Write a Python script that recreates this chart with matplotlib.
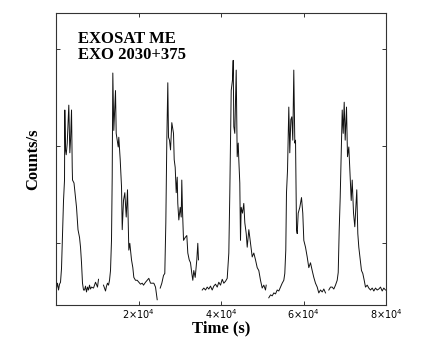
import numpy as np
import matplotlib.pyplot as plt
from matplotlib.ticker import FuncFormatter

# EXOSAT ME light curve of EXO 2030+375 (NaN = data gap)
time_s = [
    120, 360, 610, 850, 1090, 1330, 1580, 1820, 2060, 2130, 2300, 2470, 2720, 3100,
    3350, 3520, 3760, 3930, 4000, 4360, 4730, 4970, 5330, 5700, 5940, 6180, 6420,
    6670, 6910, 7150, 7390, 7640, 7880, 8120, 8360, 8600, 9090, 9580, 10060, 10300,
    np.nan,
    11510, 11760, 12000, 12240, 12480, 12730, 12970, 13210, 13450, 13620, 13770,
    14010, 14420, 14590, 15080, 15220, 15560, 15880, 16050, 16360, 16680, 17020,
    17330, 17650, 17890, 18300, 18620, 18860, 19270, 19680, 20070, 20480, 20900,
    21210, 21700, 22110, 22500, 22910, 23150, 23710, 24120, 24530,
    np.nan,
    25260, 25650, 26060, 26370, 26620, 26790, 26860, 27100, 27270, 27510, 27760,
    28070, 28480, 28650, 28890, 29140, 29380, 29520, 29770, 30110, 30350, 30490,
    30660, 30910, 31320, 31710, 31950, 32290, 32600, 32920, 33160, 33400, 33740,
    34130, 34370, 34540,
    np.nan,
    35440, 35830, 36240, 36650, 37040, 37450, 37860, 38250, 38660, 39080, 39460,
    39880, 40290, 40680, 41090, 41500, 41890, 42130, 42300, 42470, 42780, 42950,
    43100, 43340, 43680, 43920, 44170, 44310, 44550, 44720, 44890, 45210, 45520,
    45770, 46110, 46350, 46740, 47150, 47560, 47950, 48360, 48770, 49160, 49570,
    49980, 50370, 50780, 50950,
    np.nan,
    51580, 52000, 52410, 52800, 53210, 53620, 54010, 54420, 54830, 55220, 55460,
    55700, 55870, 56120, 56430, 56670, 56920, 57160, 57400, 57640, 57890, 58060,
    58300, 58470, 58710, 59100, 59510, 59820, 60070, 60480, 60890, 61280, 61690,
    62100, 62490, 62900, 63320, 63700, 64120, 64530, 64920, 65330,
    np.nan,
    66130, 66540, 66950, 67340, 67750, 68160, 68410, 68650, 68890, 69130, 69380,
    69620, 69860, 70100, 70420, 70660, 70980, 71310, 71560, 71800, 72120, 72430,
    72670, 72910, 73160, 73400, 73740, 74050, 74370, 74710, 75020, 75440, 75820,
    76240, 76650, 77040, 77450, 77860, 78250, 78660, 79070, 79460, 79870,
]
counts = [
    54, 59, 52, 58, 60, 74, 110, 144, 165, 237, 196, 191, 203, 242,
    193, 206, 237, 178, 165, 162, 147, 137, 114, 106, 96, 80, 59,
    52, 52, 56, 50, 55, 52, 57, 53, 55, 54, 60, 55, 63,
    np.nan,
    57, 54, 51, 56, 59, 57, 62, 72, 103, 168, 275,
    216, 257, 213, 199, 209, 186, 158, 114, 144, 152, 127,
    155, 93, 100, 83, 75, 65, 62, 62, 60, 58, 59,
    57, 60, 62, 64, 59, 59, 59, 55, 42,
    np.nan,
    54, 59, 67, 69, 121, 178, 206, 265, 209, 206, 196,
    224, 213, 186, 178, 152, 168, 141, 124, 137, 127, 165,
    134, 103, 106, 108, 90, 83, 80, 69, 62, 72, 65,
    83, 100, 83,
    np.nan,
    52, 54, 52, 55, 53, 56, 52, 56, 58, 55, 60,
    57, 63, 59, 61, 64, 90, 152, 206, 257, 268, 288,
    220, 213, 278, 189, 203, 186, 162, 103, 137, 131, 141,
    121, 110, 96, 114, 100, 86, 90, 83, 75, 72, 62,
    54, 57, 52, 57,
    np.nan,
    44, 47, 46, 49, 48, 52, 51, 55, 59, 62, 69,
    93, 152, 175, 240, 193, 227, 230, 206, 278, 203, 206,
    114, 110, 131, 137, 147, 131, 103, 96, 86, 75, 80,
    72, 65, 59, 55, 49, 52, 50, 53, 49,
    np.nan,
    52, 55, 55, 53, 57, 62, 70, 114, 147, 193, 237,
    213, 245, 206, 240, 189, 199, 168, 144, 165, 131, 117,
    137, 155, 110, 96, 83, 72, 69, 62, 55, 57, 54,
    52, 54, 51, 54, 52, 53, 55, 51, 54, 52,
]
xtick_vals = [2e4, 4e4, 6e4, 8e4]
ytick_vals = [100, 200, 300]

fig = plt.figure(figsize=(4.25, 3.6), dpi=100)
ax = fig.add_axes([0.1318, 0.1528, 0.7765, 0.8111])

ax.plot(time_s, counts, color='#111111', lw=0.7)

ax.set_xlim(0, 8e4)
ax.set_ylim(36.6, 336.7)
ax.set_xticks(xtick_vals)
ax.set_yticks(ytick_vals)
ax.xaxis.set_major_formatter(FuncFormatter(lambda v, p: r'%d$\times$10$^{4}$' % round(v / 1e4)))
ax.set_yticklabels([])
ax.tick_params(direction='in', length=3, width=0.7, top=True, right=True,
               labelsize=7, colors='#333333', labelcolor='black', pad=1.5)
for s in ax.spines.values():
    s.set_linewidth(0.8)
    s.set_color('#333333')

serif = {'family': ['Liberation Serif', 'DejaVu Serif'], 'weight': 'bold', 'size': 12}
ax.set_xlabel('Time (s)', fontdict=serif, labelpad=0)
ax.set_ylabel('Counts/s', fontdict=serif, labelpad=9)
ax.text(0.066, 0.94, 'EXOSAT ME\nEXO 2030+375', transform=ax.transAxes,
        fontdict=serif, va='top', ha='left', linespacing=1.05)

fig.savefig('out.png', dpi=100)
